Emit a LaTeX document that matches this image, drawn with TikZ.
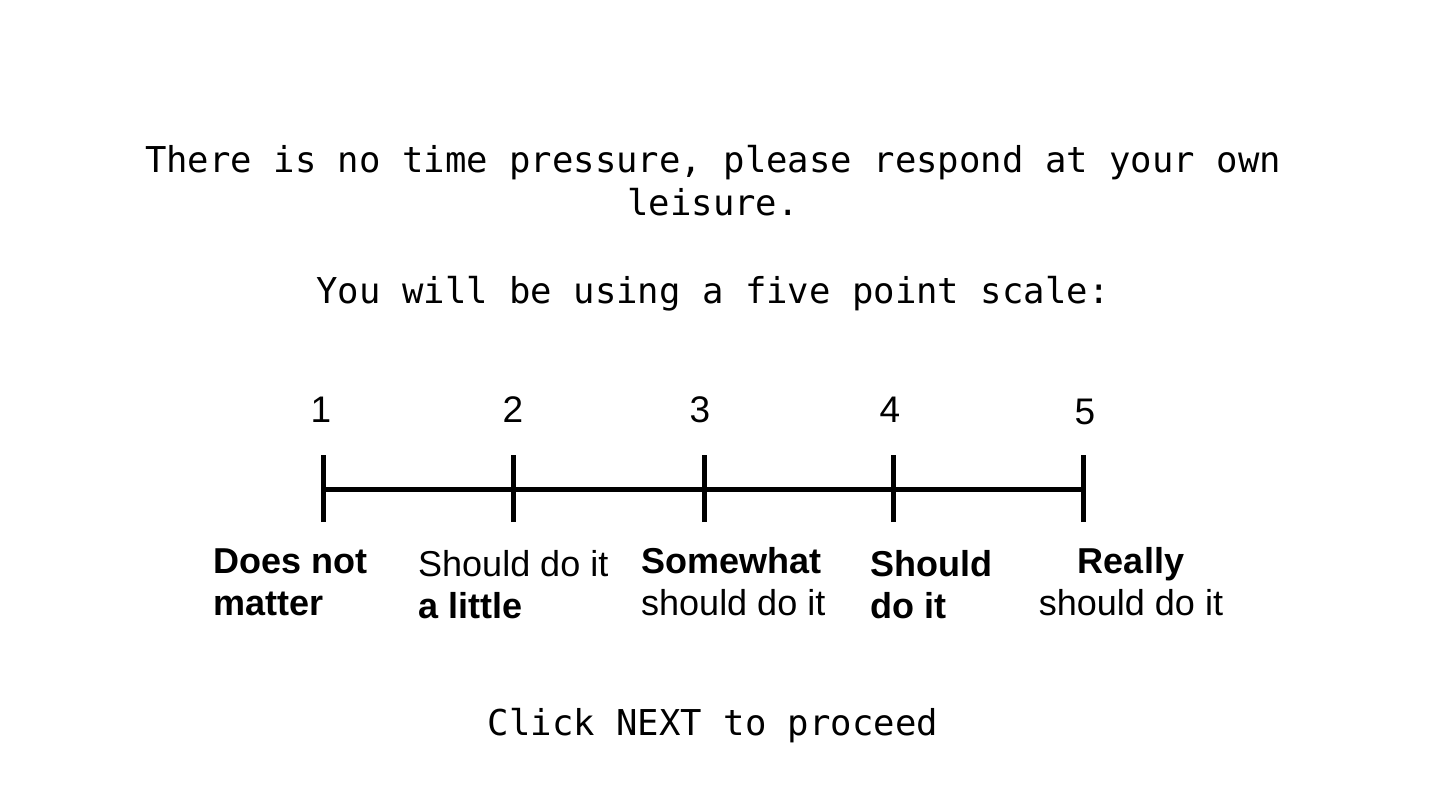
\documentclass[tikz,border=0pt]{standalone}
\usepackage{fontspec}
\setmainfont{Liberation Sans}
\newfontfamily\monofnt{DejaVu Sans Mono}
\begin{document}
\begin{tikzpicture}[x=1pt,y=-1pt,
  monotxt/.style={anchor=base,inner sep=0pt,font=\monofnt\fontsize{35.6}{42}\selectfont},
  numtxt/.style={anchor=base,inner sep=0pt,font=\fontsize{37}{42}\selectfont},
  lbl/.style={anchor=base west,inner sep=0pt,font=\fontsize{36}{42}\selectfont},
  lblc/.style={anchor=base,inner sep=0pt,font=\fontsize{36}{42}\selectfont},
  scaleline/.style={line width=5pt,black}]
\useasboundingbox (0,0) rectangle (1440,810);
\fill[white] (0,0) rectangle (1440,810);
% header text
\node[monotxt] (h1) at (713,173) {There is no time pressure, please respond at your own};
\node[monotxt] (h2) at (713,216) {leisure.};
\node[monotxt] (h3) at (713,303) {You will be using a five point scale:};
\node[monotxt] (foot) at (713,735) {Click NEXT to proceed};
% scale
\coordinate (t1) at (323.5,489);
\coordinate (t2) at (513.5,489);
\coordinate (t3) at (704,489);
\coordinate (t4) at (893,489);
\coordinate (t5) at (1083,489);
\draw[scaleline] (t1) -- (t5);
\foreach \t in {t1,t2,t3,t4,t5}{
  \draw[scaleline] ([yshift=-33pt]\t.center) -- ([yshift=34pt]\t.center);
}
% numbers
\node[numtxt] (n1) at (321,422) {1};
\node[numtxt] (n2) at (513,422) {2};
\node[numtxt] (n3) at (700,422) {3};
\node[numtxt] (n4) at (890,422) {4};
\node[numtxt] (n5) at (1085,424) {5};
% labels
\node[lbl] (l1a) at (213,573) {\bfseries Does not};
\node[lbl] (l1b) at (213,615) {\bfseries matter};
\node[lbl] (l2a) at (418,576) {Should do it};
\node[lbl] (l2b) at (418,618) {\bfseries a little};
\node[lbl] (l3a) at (641,573) {\bfseries Somewhat};
\node[lbl] (l3b) at (641,615) {should do it};
\node[lbl] (l4a) at (870,576) {\bfseries Should};
\node[lbl] (l4b) at (870,618) {\bfseries do it};
\node[lblc] (l5a) at (1131,573) {\bfseries Really};
\node[lblc] (l5b) at (1131,615) {should do it};
\end{tikzpicture}
\end{document}
